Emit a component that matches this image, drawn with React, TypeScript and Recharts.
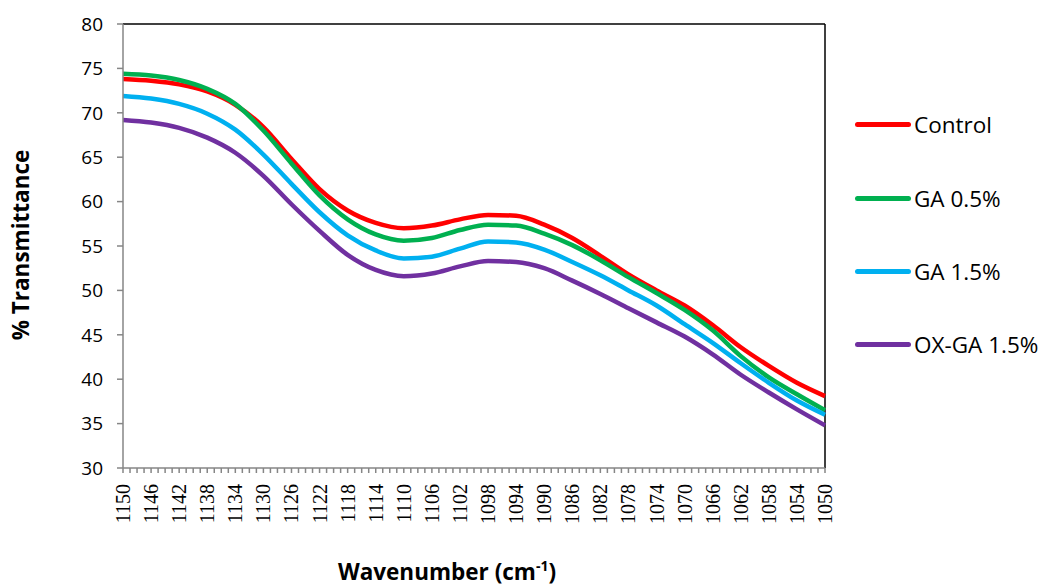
import React from "react";
import { LineChart, Line, XAxis, YAxis, ReferenceLine } from "recharts";

const wavenumbers = [1150, 1146, 1142, 1138, 1134, 1130, 1126, 1122, 1118, 1114, 1110, 1106, 1102, 1098, 1094, 1090, 1086, 1082, 1078, 1074, 1070, 1066, 1062, 1058, 1054, 1050];
const control = [73.8, 73.6, 73.2, 72.4, 70.9, 68.4, 64.8, 61.4, 59.0, 57.6, 57.0, 57.3, 58.0, 58.5, 58.4, 57.4, 55.9, 53.9, 51.8, 50.0, 48.3, 46.1, 43.6, 41.5, 39.6, 38.1];
const ga05 = [74.4, 74.2, 73.7, 72.7, 71.0, 68.0, 64.3, 60.7, 58.0, 56.3, 55.6, 55.9, 56.8, 57.4, 57.3, 56.4, 55.1, 53.4, 51.5, 49.7, 47.8, 45.5, 42.6, 40.2, 38.3, 36.5];
const ga15 = [71.9, 71.6, 71.0, 69.9, 68.1, 65.3, 62.0, 58.8, 56.2, 54.5, 53.6, 53.8, 54.7, 55.5, 55.4, 54.6, 53.2, 51.7, 50.0, 48.3, 46.2, 44.1, 41.8, 39.6, 37.6, 36.0];
const oxga15 = [69.2, 68.9, 68.3, 67.2, 65.5, 62.9, 59.7, 56.7, 54.0, 52.3, 51.6, 51.9, 52.7, 53.3, 53.2, 52.5, 51.1, 49.6, 48.0, 46.4, 44.8, 42.8, 40.5, 38.5, 36.6, 34.8];
const yTicks = [30, 35, 40, 45, 50, 55, 60, 65, 70, 75, 80];
const xTickLabels = wavenumbers;

const series = [
  { key: "control", name: "Control", color: "#FF0000", values: control },
  { key: "ga05", name: "GA 0.5%", color: "#00B050", values: ga05 },
  { key: "ga15", name: "GA 1.5%", color: "#00B0F0", values: ga15 },
  { key: "oxga15", name: "OX-GA 1.5%", color: "#7030A0", values: oxga15 },
];

const data = wavenumbers.map((wn, i) => {
  const row: any = { wn };
  series.forEach((s) => (row[s.key] = s.values[i]));
  return row;
});

const minorTicks: number[] = [];
for (let v = 1050; v <= 1150; v++) minorTicks.push(v);

const XTick = (props: any) => {
  const { x, y, payload } = props;
  if (!xTickLabels.includes(payload.value)) return <g />;
  const ty = y + 9;
  return (
    <text
      x={x}
      y={ty}
      transform={`rotate(-90, ${x}, ${ty})`}
      textAnchor="end"
      dy="0.35em"
      style={{ fontFamily: "'Liberation Serif', 'Times New Roman', serif" }}
      fontSize={20}
      fill="#000"
    >
      {payload.value}
    </text>
  );
};

const sans = "'Open Sans', 'Liberation Sans', sans-serif";

export default function App() {
  return (
    <div style={{ position: "relative", width: 1040, height: 578 }}>
      <LineChart
        width={1040}
        height={578}
        data={data}
        margin={{ top: 16, right: 223, bottom: 0, left: 0 }}
      >
        <XAxis
          dataKey="wn"
          type="number"
          domain={[1050, 1150]}
          reversed
          ticks={minorTicks}
          interval={0}
          tick={<XTick />}
          tickSize={5}
          height={118}
          stroke="#868686"
          strokeWidth={1.5}
        />
        <YAxis
          type="number"
          domain={[30, 80]}
          ticks={yTicks}
          interval={0}
          width={115}
          tickSize={6}
          tickMargin={14}
          stroke="#868686"
          strokeWidth={1.5}
          tick={{ fontSize: 19, fill: "#000", fontFamily: sans }}
        />
        <ReferenceLine y={80} stroke="#000" strokeWidth={1.5} />
        <ReferenceLine x={1050} stroke="#000" strokeWidth={1.5} />
        {series.map((s) => (
          <Line
            key={s.key}
            dataKey={s.key}
            name={s.name}
            type="monotone"
            stroke={s.color}
            strokeWidth={4.5}
            dot={false}
            isAnimationActive={false}
          />
        ))}
      </LineChart>
      <div
        style={{
          position: "absolute",
          left: 12,
          top: 237,
          transform: "translate(-50%, -50%) rotate(-90deg)",
          whiteSpace: "nowrap",
          fontFamily: sans,
          fontWeight: 700,
          fontSize: 22.5,
          color: "#000",
        }}
      >
        % Transmittance
      </div>
      <div
        style={{
          position: "absolute",
          left: 439,
          top: 563,
          transform: "translate(-50%, -50%)",
          whiteSpace: "nowrap",
          fontFamily: sans,
          fontWeight: 700,
          fontSize: 22.5,
          color: "#000",
        }}
      >
        Wavenumber (cm<sup style={{ fontSize: 14 }}>-1</sup>)
      </div>
      {series.map((s, i) => (
        <div
          key={s.key}
          style={{
            position: "absolute",
            left: 847,
            top: [116, 190, 263, 336][i] - 16,
            height: 32,
            display: "flex",
            alignItems: "center",
            whiteSpace: "nowrap",
            fontFamily: sans,
            fontSize: 22.5,
            color: "#000",
          }}
        >
          <span
            style={{
              display: "inline-block",
              width: 56,
              height: 5,
              borderRadius: 3,
              background: s.color,
              marginRight: 3,
            }}
          />
          {s.name}
        </div>
      ))}
    </div>
  );
}
